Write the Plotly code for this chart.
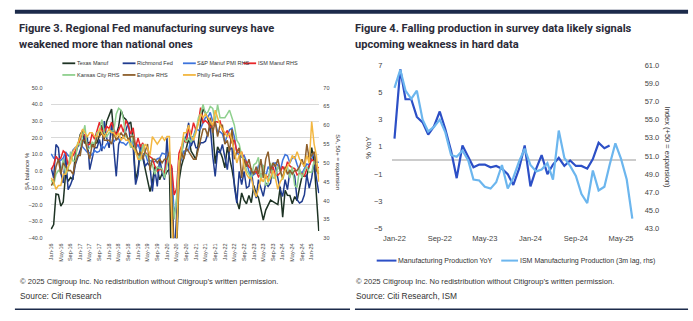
import plotly.graph_objects as go
import pandas as pd

W, H = 693, 321

# ---------------- Figure 3 data: monthly, Jan-2016 .. Apr-2025 ----------------
fig3_start = "2016-01-01"
texas_manuf = [
    -34.6, -31.8, -13.6, -14.0, -20.8, -18.3, -1.3, -6.0, -3.7, -5.0, 10.0, 15.0,
    22.0, 24.5, 16.9, 16.8, 17.3, 15.0, 16.8, 17.0, 21.3, 27.6, 19.4, 29.7,
    33.4, 37.2, 21.9, 21.8, 26.8, 36.5, 32.3, 30.9, 28.1, 29.4, 17.6, -5.1,
    1.0, 13.1, 8.3, 2.0, -5.3, -12.1, -6.3, 2.7, 1.5, -5.1, -1.3, -3.2,
    -0.2, 1.2, -70.0, -73.7, -49.2, -6.1, 3.0, 8.0, 13.6, 19.8, 12.0, 9.7,
    7.0, 17.2, 28.9, 37.3, 34.9, 31.1, 27.3, 25.3, 4.6, 14.6, 11.8, 8.1,
    2.0, 14.4, 8.7, 1.1, -7.3, -17.7, -22.6, -12.9, -17.2, -19.4, -14.4, -18.8,
    -8.4, -13.5, -15.7, -23.4, -29.1, -23.2, -20.0, -17.2, -18.1, -19.2, -19.9, -9.3,
    -27.4, -11.3, -14.4, -14.5, -19.4, -15.1, -17.5, -9.7, -3.0, -3.0, -2.7, 3.4,
    14.1, 5.7, -16.3, -35.7,
]
richmond_fed = [
    2, -4, 16, 14, -1, -7, 10, -11, -8, -4, 4, 8,
    12, 17, 22, 20, 1, 7, 14, 14, 19, 12, 30, 20,
    14, 28, 15, -3, 16, 20, 20, 24, 29, 15, 14, -8,
    -2, 16, 10, 3, 5, 3, -12, 1, -9, 8, -1, -5,
    20, -2, 2, -53, -27, 0, 10, 18, 21, 29, 15, 19,
    14, 14, 17, 17, 18, 22, 27, 9, -3, 12, 11, 16,
    8, 1, 13, 14, -9, -19, 0, -8, 0, -10, -9, 1,
    -11, -16, -5, -10, -15, -7, -9, -7, 5, 3, -5, -11,
    -15, -5, -11, 0, 0, -3, -17, -19, -18, -14, -2, -10,
    -4, 6, -4, -13,
]
sp_manuf_pmi = [
    52.4, 51.3, 51.5, 50.8, 50.7, 51.3, 52.9, 52.0, 51.5, 53.4, 54.1, 54.3,
    55.0, 54.2, 53.3, 52.8, 52.7, 52.0, 53.3, 52.8, 53.1, 54.6, 53.9, 55.1,
    55.5, 55.3, 55.6, 56.5, 56.4, 55.4, 55.3, 54.7, 55.6, 55.7, 55.3, 53.8,
    54.9, 53.0, 52.4, 52.6, 50.5, 50.6, 50.4, 50.3, 51.1, 51.3, 52.6, 52.4,
    51.9, 50.7, 48.5, 36.1, 39.8, 49.8, 50.9, 53.1, 53.2, 53.4, 56.7, 57.1,
    59.2, 58.6, 59.1, 60.5, 62.1, 62.1, 63.4, 61.1, 60.7, 58.4, 58.3, 57.7,
    55.5, 57.3, 58.8, 59.2, 57.0, 52.7, 52.2, 51.5, 52.0, 50.4, 47.7, 46.2,
    46.9, 47.3, 49.2, 50.2, 48.4, 46.3, 49.0, 47.9, 49.8, 50.0, 49.4, 47.9,
    50.7, 52.2, 51.9, 50.0, 51.3, 51.6, 49.6, 47.9, 47.3, 48.5, 49.7, 49.4,
    51.2, 52.7, 50.2, 50.2,
]
ism_manuf = [
    48.2, 49.5, 51.8, 50.8, 51.3, 53.2, 52.6, 49.4, 51.5, 51.9, 53.2, 54.7,
    56.0, 57.7, 57.2, 54.8, 54.9, 57.8, 56.3, 58.8, 60.8, 58.7, 58.2, 59.7,
    59.1, 60.8, 59.3, 57.3, 58.7, 60.2, 58.1, 61.3, 59.8, 57.7, 59.3, 54.1,
    56.6, 54.2, 55.3, 52.8, 52.1, 51.7, 51.2, 49.1, 47.8, 48.3, 48.1, 47.2,
    50.9, 50.1, 49.1, 41.5, 43.1, 52.6, 54.2, 56.0, 55.4, 59.3, 57.5, 60.7,
    58.7, 60.8, 64.7, 60.7, 61.2, 60.6, 59.5, 59.9, 61.1, 60.8, 61.1, 58.7,
    57.6, 58.6, 57.1, 55.4, 56.1, 53.0, 52.8, 52.8, 50.9, 50.2, 49.0, 48.4,
    47.4, 47.7, 46.3, 47.1, 46.9, 46.0, 46.4, 47.6, 49.0, 46.7, 46.7, 47.4,
    49.1, 47.8, 50.3, 49.2, 48.7, 48.5, 46.8, 47.2, 47.2, 46.5, 48.4, 49.2,
    50.9, 50.3, 49.0, 48.7,
]
kansas_city = [
    45.5, 44.0, 47.0, 48.0, 47.5, 51.0, 47.0, 48.0, 53.0, 50.5, 50.5, 55.5,
    54.5, 57.0, 60.0, 53.5, 54.0, 55.5, 55.0, 58.0, 58.5, 61.5, 58.0, 57.0,
    58.0, 58.5, 58.5, 63.0, 64.5, 64.0, 61.5, 57.0, 56.5, 54.0, 57.5, 53.0,
    52.5, 50.5, 55.0, 52.5, 52.0, 50.0, 49.5, 47.0, 49.0, 48.5, 48.5, 46.0,
    49.5, 52.5, 41.5, 35.0, 40.5, 50.5, 51.5, 57.0, 55.5, 56.5, 55.5, 57.0,
    58.5, 62.0, 63.0, 65.5, 63.0, 63.5, 65.0, 64.5, 61.0, 65.5, 62.0, 62.0,
    62.0, 63.0, 64.0, 62.0, 60.0, 56.0, 55.0, 52.0, 51.0, 48.0, 47.0, 46.0,
    49.5, 50.0, 51.5, 45.0, 49.5, 44.0, 44.5, 50.0, 46.0, 46.0, 49.0, 48.0,
    45.5, 48.0, 49.0, 46.0, 49.0, 44.0, 43.5, 48.5, 46.0, 48.0, 49.0, 47.5,
    47.5, 50.5, 49.0, 47.5,
]
empire = [
    44, 45, 49, 51, 47, 50, 49, 48, 48, 47, 50, 52,
    52, 56, 56, 53, 51, 55, 54, 57, 57, 58, 56, 56,
    56, 55, 58, 56, 57, 58, 57, 58, 56, 57, 57, 54,
    52, 53, 51, 53, 55, 48, 51, 51, 50, 51, 50, 51,
    51, 53, 42, 25, 30, 47, 53, 51, 54, 53, 52, 51,
    51, 54, 56, 59, 59, 57, 62, 58, 61, 57, 60, 60,
    55, 56, 53, 59, 51, 53, 54, 46, 51, 49, 51, 48,
    47, 49, 47, 51, 46, 51, 53, 48, 50, 49, 51, 48,
    46, 49, 47, 48, 47, 48, 48, 49, 51, 49, 55, 51,
    52, 53, 48, 47,
]
philly_fed = [
    46, 45, 43, 44, 44, 47, 47, 49, 50, 53, 54, 55,
    57, 59, 58, 57, 58, 58, 57, 57, 59, 58, 57, 58,
    59, 58, 58, 57, 58, 56, 57, 56, 56, 55, 54, 53,
    51, 51, 53, 55, 54, 52, 57, 56, 55, 56, 57, 56,
    57, 57, 35, 22, 29, 50, 54, 58, 58, 60, 57, 56,
    58, 61, 63, 62, 63, 62, 61, 60, 64, 62, 60, 59,
    58, 57, 58, 56, 53, 50, 52, 53, 49, 47, 46, 46,
    43, 41, 43, 46, 45, 47, 45, 46, 48, 46, 43, 45,
    46, 48, 49, 50, 52, 51, 53, 51, 50, 49, 52, 50,
    61, 55, 52, 45,
]

# ---------------- Figure 4 data: monthly from Jan-2022 ----------------
fig4_start = "2022-01-01"
mfg_prod_yoy = [
    1.6, 6.7, 4.5, 4.5, 3.2, 2.8, 1.9, 2.5, 3.6, 2.3, 0.7, -1.3,
    1.1, 0.2, -0.5, -0.3, -0.3, -0.5, -0.4, -0.6, -1.0, -1.8, -0.6, 1.1,
    -1.9, -0.6, 0.4, -1.0, -0.3, 0.2, -0.4, 0.0, -0.4, -0.4, -0.6, 0.1,
    1.3, 0.9, 1.1,
]
ism_mfg_prod_3m_lag = [
    58.5, 60.5, 58.2, 57.3, 58.2, 55.0, 53.7, 54.2, 55.0, 53.6, 51.1, 50.9,
    51.6, 50.5, 48.4, 48.3, 47.6, 47.4, 48.1, 50.0, 47.4, 48.6, 50.4, 51.8,
    50.0, 49.3, 49.5, 50.2, 48.4, 53.8, 50.8, 49.9, 48.8, 46.8, 45.8, 49.4,
    47.2, 47.6, 50.0, 52.4, 50.7, 48.4, 44.1,
]

fig3_series = [
    ("Texas Manuf", texas_manuf, "#1e3324", "y"),
    ("Richmond Fed", richmond_fed, "#203c8f", "y"),
    ("S&P Manuf PMI RHS", sp_manuf_pmi, "#3e74dc", "y2"),
    ("ISM Manuf RHS", ism_manuf, "#e8262a", "y2"),
    ("Kansas City RHS", kansas_city, "#8fd08e", "y2"),
    ("Empire RHS", empire, "#8d5f2c", "y2"),
    ("Philly Fed RHS", philly_fed, "#f3b740", "y2"),
]
fig4_series = [
    ("Manufacturing Production YoY", mfg_prod_yoy, "#2c4fc6", "y3"),
    ("ISM Manufacturing Production (3m lag, rhs)", ism_mfg_prod_3m_lag, "#6cb6ee", "y4"),
]

TXT = "#333333"
TICK = "#444444"
NAVY = "#1c2b4b"
FONT = "Liberation Sans, Arial, sans-serif"
TITLEF = "Roboto, Lato, sans-serif"


def px(x):
    return x / W


def py(y):
    return 1 - y / H


fig = go.Figure()

d3 = pd.date_range(fig3_start, periods=len(texas_manuf), freq="MS")
for name, vals, col, yax in fig3_series:
    fig.add_trace(go.Scatter(x=d3, y=vals, name=name, mode="lines",
                             line=dict(color=col, width=1.5),
                             xaxis="x", yaxis=yax, showlegend=False))

d4a = pd.date_range(fig4_start, periods=len(mfg_prod_yoy), freq="MS")
d4b = pd.date_range(fig4_start, periods=len(ism_mfg_prod_3m_lag), freq="MS")
for (name, vals, col, yax), d in zip(fig4_series, [d4a, d4b]):
    fig.add_trace(go.Scatter(x=d, y=vals, name=name, mode="lines",
                             line=dict(color=col, width=2.2),
                             xaxis="x2", yaxis=yax, showlegend=False))

small = dict(family=FONT, size=5.5, color=TICK)
mid = dict(family=FONT, size=7.5, color=TICK)

fig.update_layout(
    width=W, height=H, autosize=False,
    margin=dict(l=0, r=0, t=0, b=0),
    paper_bgcolor="white", plot_bgcolor="white",
    xaxis=dict(domain=[px(43), px(315)], anchor="y", type="date",
               range=["2015-12-23", "2025-04-08"],
               tickformat="%b-%y", dtick="M4", tick0="2016-01-01",
               tickangle=-90, tickfont=small, showgrid=False,
               showline=False, zeroline=False, ticks="", ticklabelstandoff=3),
    yaxis=dict(domain=[py(241), py(86)], anchor="x", range=[-40, 50], dtick=10,
               tickformat=".1f", tickfont=small, showgrid=True,
               gridcolor="#d9d9d9", gridwidth=1, zeroline=False, ticks="",
               ticklabelstandoff=7),
    yaxis2=dict(overlaying="y", anchor="x", side="right", range=[30, 70], dtick=5,
                tick0=30, tickfont=small, showgrid=False, zeroline=False, ticks="",
                ticklabelstandoff=3),
    xaxis2=dict(domain=[px(388), px(635)], anchor="y3", type="date",
                range=["2021-12-16", "2025-07-19"],
                tickformat="%b-%y", dtick="M8", tick0="2022-01-01",
                tickfont=mid, showgrid=False, showline=False, zeroline=False,
                ticks="", ticklabelstandoff=4),
    yaxis3=dict(domain=[py(231), py(63)], anchor="x2", range=[-5, 7], dtick=2,
                tick0=-5, tickfont=mid, showgrid=False, zeroline=True,
                zerolinecolor="#cccccc", zerolinewidth=1.5, ticks="",
                ticklabelstandoff=8),
    yaxis4=dict(overlaying="y3", anchor="x2", side="right", range=[43, 61], dtick=2,
                tick0=43, tickformat=".1f", tickfont=mid, showgrid=False,
                zeroline=False, ticks="", ticklabelstandoff=8),
)

shapes = [
    dict(type="rect", xref="paper", yref="paper", x0=px(7), x1=px(688),
         y0=py(10), y1=py(6), fillcolor=NAVY, line=dict(width=0)),
    dict(type="line", xref="paper", yref="paper", x0=px(7), x1=px(346),
         y0=py(314), y1=py(314), line=dict(color=NAVY, width=1.5)),
    dict(type="line", xref="paper", yref="paper", x0=px(351), x1=px(688),
         y0=py(314), y1=py(314), line=dict(color=NAVY, width=1.5)),
]
ann = []


def text(x, y, s, font, xanchor="left", yanchor="middle", angle=0):
    ann.append(dict(x=px(x), y=py(y), xref="paper", yref="paper", text=s,
                    showarrow=False, xanchor=xanchor, yanchor=yanchor,
                    textangle=angle, font=font, align="left", borderpad=0))


# titles
tfont = dict(family=TITLEF, size=11.1, color="#2b2b38", weight="bold")
text(10, 25, "Figure 3. Regional Fed manufacturing surveys have", tfont)
text(10, 42, "weakened more than national ones", tfont)
text(350, 25, "Figure 4. Falling production in survey data likely signals", tfont)
text(350, 42, "upcoming weakness in hard data", tfont)

# legends for figure 3 (manual, two rows)
leg3_pos = [(55, 61), (116, 61), (177, 61), (238, 61), (55, 73), (116, 73), (177, 73)]
lfont = dict(family=FONT, size=5.5, color="#333333")
for (name, vals, col, yax), (lx, ly) in zip(fig3_series, leg3_pos):
    shapes.append(dict(type="line", xref="paper", yref="paper", x0=px(lx), x1=px(lx + 13),
                       y0=py(ly), y1=py(ly), line=dict(color=col, width=1.8)))
    text(lx + 13.5, ly, name, lfont)

# legend for figure 4
leg4_pos = [(373, 264, 20), (499, 264, 17)]
l4font = dict(family=FONT, size=7, color="#333333")
for (name, vals, col, yax), (lx, ly, ln) in zip(fig4_series, leg4_pos):
    shapes.append(dict(type="line", xref="paper", yref="paper", x0=px(lx), x1=px(lx + ln),
                       y0=py(ly), y1=py(ly), line=dict(color=col, width=2)))
    text(lx + ln + 0.5, ly, name, l4font)

# axis titles
text(19, 172, "SA balance %", dict(family=FONT, size=6, color=TXT), "center", "middle", -90)
text(333, 163, "SA, 50+ = expansion", dict(family=FONT, size=6, color=TXT), "center", "middle", 90)
text(365, 148, "% YoY", dict(family=FONT, size=7.5, color=TXT), "center", "middle", -90)
text(667, 147, "Index (+50 = expansion)", dict(family=FONT, size=7.5, color=TXT), "center", "middle", 90)

# footers
cfont = dict(family=FONT, size=7.6, color="#333333")
sfont = dict(family=FONT, size=8.4, color="#333333")
copy_txt = "© 2025 Citigroup Inc. No redistribution without Citigroup’s written permission."
text(11, 285, copy_txt, cfont)
text(11, 300, "Source: Citi Research", sfont)
text(351, 285, copy_txt, cfont)
text(351, 300, "Source: Citi Research, ISM", sfont)

fig.update_layout(shapes=shapes, annotations=ann)
fig.write_html("out.html")
